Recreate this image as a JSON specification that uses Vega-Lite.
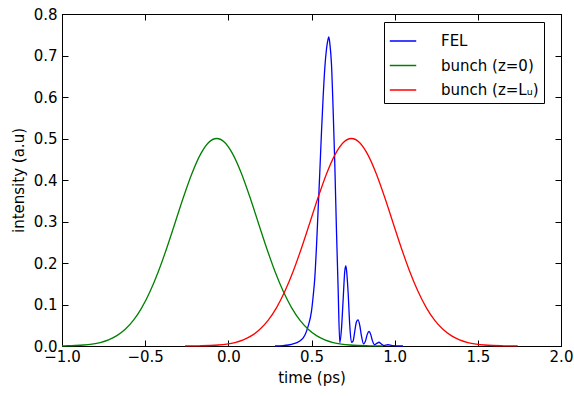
{
  "$schema": "https://vega.github.io/schema/vega-lite/v6.json",
  "width": 499,
  "height": 332,
  "autosize": {"type": "none"},
  "padding": {"left": 62, "top": 14, "right": 13, "bottom": 50},
  "config": {
    "font": "DejaVu Sans",
    "view": {"stroke": "black", "strokeWidth": 1},
    "axis": {
      "labelFont": "DejaVu Sans", "labelFontSize": 15, "labelColor": "black",
      "titleFont": "DejaVu Sans", "titleFontSize": 15, "titleFontWeight": "normal", "titleColor": "black",
      "domainColor": "black", "tickColor": "black", "grid": false, "tickSize": -6, "tickWidth": 1
    }
  },
  "datasets": {
    "curves": [
      {"series": "FEL", "t": 0.28, "v": 0.0},
      {"series": "FEL", "t": 0.33, "v": 0.001},
      {"series": "FEL", "t": 0.38, "v": 0.004},
      {"series": "FEL", "t": 0.43, "v": 0.012},
      {"series": "FEL", "t": 0.46, "v": 0.026},
      {"series": "FEL", "t": 0.48, "v": 0.048},
      {"series": "FEL", "t": 0.50, "v": 0.084},
      {"series": "FEL", "t": 0.51, "v": 0.12},
      {"series": "FEL", "t": 0.52, "v": 0.165},
      {"series": "FEL", "t": 0.53, "v": 0.24},
      {"series": "FEL", "t": 0.54, "v": 0.33},
      {"series": "FEL", "t": 0.55, "v": 0.42},
      {"series": "FEL", "t": 0.56, "v": 0.515},
      {"series": "FEL", "t": 0.57, "v": 0.60},
      {"series": "FEL", "t": 0.58, "v": 0.67},
      {"series": "FEL", "t": 0.59, "v": 0.715},
      {"series": "FEL", "t": 0.60, "v": 0.74},
      {"series": "FEL", "t": 0.604, "v": 0.745},
      {"series": "FEL", "t": 0.61, "v": 0.73},
      {"series": "FEL", "t": 0.62, "v": 0.68},
      {"series": "FEL", "t": 0.63, "v": 0.57},
      {"series": "FEL", "t": 0.64, "v": 0.44},
      {"series": "FEL", "t": 0.65, "v": 0.28},
      {"series": "FEL", "t": 0.66, "v": 0.14},
      {"series": "FEL", "t": 0.67, "v": 0.008},
      {"series": "FEL", "t": 0.68, "v": 0.04},
      {"series": "FEL", "t": 0.69, "v": 0.11},
      {"series": "FEL", "t": 0.70, "v": 0.18},
      {"series": "FEL", "t": 0.706, "v": 0.193},
      {"series": "FEL", "t": 0.71, "v": 0.185},
      {"series": "FEL", "t": 0.72, "v": 0.13},
      {"series": "FEL", "t": 0.73, "v": 0.05},
      {"series": "FEL", "t": 0.74, "v": 0.009},
      {"series": "FEL", "t": 0.75, "v": 0.012},
      {"series": "FEL", "t": 0.76, "v": 0.035},
      {"series": "FEL", "t": 0.77, "v": 0.058},
      {"series": "FEL", "t": 0.78, "v": 0.063},
      {"series": "FEL", "t": 0.79, "v": 0.05},
      {"series": "FEL", "t": 0.80, "v": 0.025},
      {"series": "FEL", "t": 0.814, "v": 0.005},
      {"series": "FEL", "t": 0.825, "v": 0.013},
      {"series": "FEL", "t": 0.835, "v": 0.028},
      {"series": "FEL", "t": 0.846, "v": 0.035},
      {"series": "FEL", "t": 0.856, "v": 0.028},
      {"series": "FEL", "t": 0.866, "v": 0.013},
      {"series": "FEL", "t": 0.88, "v": 0.003},
      {"series": "FEL", "t": 0.895, "v": 0.007},
      {"series": "FEL", "t": 0.906, "v": 0.009},
      {"series": "FEL", "t": 0.916, "v": 0.006},
      {"series": "FEL", "t": 0.935, "v": 0.001},
      {"series": "FEL", "t": 0.96, "v": 0.003},
      {"series": "FEL", "t": 0.985, "v": 0.001},
      {"series": "FEL", "t": 1.05, "v": 0.0},

      {"series": "bunch (z=0)", "t": -1.0, "v": 0.0004},
      {"series": "bunch (z=0)", "t": -0.97, "v": 0.0006},
      {"series": "bunch (z=0)", "t": -0.92, "v": 0.0012},
      {"series": "bunch (z=0)", "t": -0.87, "v": 0.0024},
      {"series": "bunch (z=0)", "t": -0.82, "v": 0.0046},
      {"series": "bunch (z=0)", "t": -0.77, "v": 0.0084},
      {"series": "bunch (z=0)", "t": -0.72, "v": 0.0148},
      {"series": "bunch (z=0)", "t": -0.67, "v": 0.0249},
      {"series": "bunch (z=0)", "t": -0.62, "v": 0.0402},
      {"series": "bunch (z=0)", "t": -0.57, "v": 0.0623},
      {"series": "bunch (z=0)", "t": -0.52, "v": 0.0926},
      {"series": "bunch (z=0)", "t": -0.47, "v": 0.1319},
      {"series": "bunch (z=0)", "t": -0.42, "v": 0.1802},
      {"series": "bunch (z=0)", "t": -0.37, "v": 0.2363},
      {"series": "bunch (z=0)", "t": -0.32, "v": 0.2971},
      {"series": "bunch (z=0)", "t": -0.27, "v": 0.3583},
      {"series": "bunch (z=0)", "t": -0.22, "v": 0.4145},
      {"series": "bunch (z=0)", "t": -0.17, "v": 0.4600},
      {"series": "bunch (z=0)", "t": -0.12, "v": 0.4897},
      {"series": "bunch (z=0)", "t": -0.07, "v": 0.5},
      {"series": "bunch (z=0)", "t": -0.02, "v": 0.4897},
      {"series": "bunch (z=0)", "t": 0.03, "v": 0.4600},
      {"series": "bunch (z=0)", "t": 0.08, "v": 0.4145},
      {"series": "bunch (z=0)", "t": 0.13, "v": 0.3583},
      {"series": "bunch (z=0)", "t": 0.18, "v": 0.2971},
      {"series": "bunch (z=0)", "t": 0.23, "v": 0.2363},
      {"series": "bunch (z=0)", "t": 0.28, "v": 0.1802},
      {"series": "bunch (z=0)", "t": 0.33, "v": 0.1319},
      {"series": "bunch (z=0)", "t": 0.38, "v": 0.0926},
      {"series": "bunch (z=0)", "t": 0.43, "v": 0.0623},
      {"series": "bunch (z=0)", "t": 0.48, "v": 0.0402},
      {"series": "bunch (z=0)", "t": 0.53, "v": 0.0249},
      {"series": "bunch (z=0)", "t": 0.58, "v": 0.0148},
      {"series": "bunch (z=0)", "t": 0.63, "v": 0.0084},
      {"series": "bunch (z=0)", "t": 0.68, "v": 0.0046},
      {"series": "bunch (z=0)", "t": 0.73, "v": 0.0024},
      {"series": "bunch (z=0)", "t": 0.78, "v": 0.0012},
      {"series": "bunch (z=0)", "t": 0.83, "v": 0.0006},
      {"series": "bunch (z=0)", "t": 0.88, "v": 0.0003},
      {"series": "bunch (z=0)", "t": 0.93, "v": 0.0001},

      {"series": "bunch (z=Lᵤ)", "t": -0.26, "v": 0.0001},
      {"series": "bunch (z=Lᵤ)", "t": -0.21, "v": 0.0003},
      {"series": "bunch (z=Lᵤ)", "t": -0.16, "v": 0.0006},
      {"series": "bunch (z=Lᵤ)", "t": -0.11, "v": 0.0012},
      {"series": "bunch (z=Lᵤ)", "t": -0.06, "v": 0.0024},
      {"series": "bunch (z=Lᵤ)", "t": -0.01, "v": 0.0046},
      {"series": "bunch (z=Lᵤ)", "t": 0.04, "v": 0.0084},
      {"series": "bunch (z=Lᵤ)", "t": 0.09, "v": 0.0148},
      {"series": "bunch (z=Lᵤ)", "t": 0.14, "v": 0.0249},
      {"series": "bunch (z=Lᵤ)", "t": 0.19, "v": 0.0402},
      {"series": "bunch (z=Lᵤ)", "t": 0.24, "v": 0.0623},
      {"series": "bunch (z=Lᵤ)", "t": 0.29, "v": 0.0926},
      {"series": "bunch (z=Lᵤ)", "t": 0.34, "v": 0.1319},
      {"series": "bunch (z=Lᵤ)", "t": 0.39, "v": 0.1802},
      {"series": "bunch (z=Lᵤ)", "t": 0.44, "v": 0.2363},
      {"series": "bunch (z=Lᵤ)", "t": 0.49, "v": 0.2971},
      {"series": "bunch (z=Lᵤ)", "t": 0.54, "v": 0.3583},
      {"series": "bunch (z=Lᵤ)", "t": 0.59, "v": 0.4145},
      {"series": "bunch (z=Lᵤ)", "t": 0.64, "v": 0.4600},
      {"series": "bunch (z=Lᵤ)", "t": 0.69, "v": 0.4897},
      {"series": "bunch (z=Lᵤ)", "t": 0.74, "v": 0.5},
      {"series": "bunch (z=Lᵤ)", "t": 0.79, "v": 0.4897},
      {"series": "bunch (z=Lᵤ)", "t": 0.84, "v": 0.4600},
      {"series": "bunch (z=Lᵤ)", "t": 0.89, "v": 0.4145},
      {"series": "bunch (z=Lᵤ)", "t": 0.94, "v": 0.3583},
      {"series": "bunch (z=Lᵤ)", "t": 0.99, "v": 0.2971},
      {"series": "bunch (z=Lᵤ)", "t": 1.04, "v": 0.2363},
      {"series": "bunch (z=Lᵤ)", "t": 1.09, "v": 0.1802},
      {"series": "bunch (z=Lᵤ)", "t": 1.14, "v": 0.1319},
      {"series": "bunch (z=Lᵤ)", "t": 1.19, "v": 0.0926},
      {"series": "bunch (z=Lᵤ)", "t": 1.24, "v": 0.0623},
      {"series": "bunch (z=Lᵤ)", "t": 1.29, "v": 0.0402},
      {"series": "bunch (z=Lᵤ)", "t": 1.34, "v": 0.0249},
      {"series": "bunch (z=Lᵤ)", "t": 1.39, "v": 0.0148},
      {"series": "bunch (z=Lᵤ)", "t": 1.44, "v": 0.0084},
      {"series": "bunch (z=Lᵤ)", "t": 1.49, "v": 0.0046},
      {"series": "bunch (z=Lᵤ)", "t": 1.54, "v": 0.0024},
      {"series": "bunch (z=Lᵤ)", "t": 1.59, "v": 0.0012},
      {"series": "bunch (z=Lᵤ)", "t": 1.64, "v": 0.0006},
      {"series": "bunch (z=Lᵤ)", "t": 1.69, "v": 0.0003},
      {"series": "bunch (z=Lᵤ)", "t": 1.74, "v": 0.0001}
    ]
  },
  "layer": [
    {
      "data": {"name": "curves"},
      "mark": {"type": "line", "strokeWidth": 1.3, "interpolate": "monotone"},
      "encoding": {
        "x": {
          "field": "t", "type": "quantitative",
          "scale": {"domain": [-1, 2], "nice": false, "zero": false},
          "axis": {"orient": "bottom", "title": "time (ps)", "values": [-1, -0.5, 0, 0.5, 1, 1.5, 2], "format": ".1f", "labelPadding": 9, "titlePadding": 6, "labelFlush": false}
        },
        "y": {
          "field": "v", "type": "quantitative",
          "scale": {"domain": [0, 0.8], "nice": false},
          "axis": {"orient": "left", "title": "intensity (a.u)", "values": [0, 0.1, 0.2, 0.3, 0.4, 0.5, 0.6, 0.7, 0.8], "format": ".1f", "labelPadding": 11, "titlePadding": 7, "labelFlush": false}
        },
        "color": {
          "field": "series", "type": "nominal",
          "scale": {"domain": ["FEL", "bunch (z=0)", "bunch (z=Lᵤ)"], "range": ["#0000ff", "#008000", "#ff0000"]},
          "legend": {
            "title": null, "orient": "none", "legendX": 322, "legendY": 8,
            "strokeColor": "black", "fillColor": "white", "padding": 5, "cornerRadius": 0,
            "symbolType": "stroke", "symbolSize": 700, "symbolStrokeWidth": 1.5,
            "labelFont": "DejaVu Sans", "labelFontSize": 15, "labelColor": "black", "labelOffset": 24, "rowPadding": 2.5
          }
        }
      }
    },
    {
      "data": {"name": "curves"},
      "mark": {"type": "line", "opacity": 0},
      "encoding": {
        "x": {
          "field": "t", "type": "quantitative",
          "axis": {"orient": "top", "title": null, "labels": false, "values": [-1, -0.5, 0, 0.5, 1, 1.5, 2]}
        },
        "y": {
          "field": "v", "type": "quantitative",
          "axis": {"orient": "right", "title": null, "labels": false, "values": [0, 0.1, 0.2, 0.3, 0.4, 0.5, 0.6, 0.7, 0.8]}
        },
        "detail": {"field": "series"}
      }
    }
  ],
  "resolve": {"axis": {"x": "independent", "y": "independent"}}
}
